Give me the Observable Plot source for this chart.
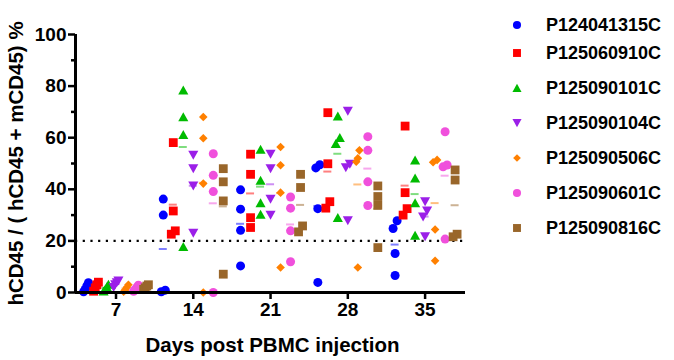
<!DOCTYPE html>
<html><head><meta charset="utf-8">
<script src="https://cdn.jsdelivr.net/npm/d3@7"></script>
<script src="https://cdn.jsdelivr.net/npm/@observablehq/plot@0.6"></script>
<style>
body{margin:0;background:#fff;font-family:"Liberation Sans",Arial,sans-serif;}
#wrap{position:relative;width:674px;height:360px;overflow:hidden;}
#chart{position:absolute;left:0;top:0;}
.item{position:absolute;left:0;height:20px;line-height:20px;font-weight:bold;font-size:18px;color:#000;white-space:nowrap;}
.item svg{position:absolute;left:0;top:0;}
.item span{position:absolute;left:41px;top:0;}
</style></head><body><div id="wrap"><div id="chart"></div><div id="legend"></div></div>
<script>
// ---- data ----
const days = [7, 14, 21, 28, 35];
const seriesNames = ["P124041315C","P125060910C","P125090101C","P125090104C","P125090506C","P125090601C","P125090816C"];
// values per day (7,14,21,28,35), four mice each
const P124041315C = [[0.3,1.2,2.5,3.8],[36.2,30.0,0.3,0.9],[39.8,32.3,24.1,10.3],[49.5,48.3,32.5,3.9],[27.8,24.8,15.1,6.6]];
const P125060910C = [[0.5,1.8,3.0,4.0],[58.1,31.6,23.9,22.6],[53.6,45.8,29.0,25.2],[69.7,49.9,35.2,32.7],[64.5,38.7,32.5,30.0]];
const P125090101C = [[0.5,1.2,2.2,3.2],[78.5,68.1,61.2,17.8],[55.5,43.5,34.8,30.3],[68.4,60.0,57.7,29.0],[51.3,44.3,34.8,22.2]];
const P125090104C = [[2.0,3.0,3.8,4.5],[53.2,48.0,41.3,23.0],[53.6,48.0,36.2,30.0],[70.3,49.7,48.4,27.8],[35.2,31.6,29.3,21.6]];
const P125090506C = [[0.3,1.0,2.0,3.0],[68.0,59.8,42.2,0.0],[56.4,49.3,38.7,9.7],[55.1,52.0,50.7,9.7],[51.4,50.5,24.4,12.3]];
const P125090601C = [[0.5,1.2,2.0,2.8],[53.8,45.4,39.1,0.0],[37.0,32.7,23.9,11.9],[60.4,55.1,42.9,33.7],[62.3,49.4,48.7,20.7]];
const P125090816C = [[1.2,1.8,2.5,3.0],[48.0,42.9,35.5,7.1],[45.8,40.7,25.8,23.5],[41.3,37.2,33.8,17.4],[47.5,43.6,22.6,21.6]];
const yTicks = [0, 20, 40, 60, 80, 100];
const yMinorTicks = [10, 30, 50, 70, 90];
const thresholdLine = [20];
const xTitle = "Days post PBMC injection";
const yTitle = "hCD45 / ( hCD45 + mCD45) %";

// ---- styling ----
const seriesValues = [P124041315C,P125060910C,P125090101C,P125090104C,P125090506C,P125090601C,P125090816C];
const colors = ["#0000FF","#FF0000","#00BB00","#9B1FE8","#FF8000","#F050DC","#99662A"];
const shape = (k, s) => {
  if (k === "circle") return {draw(c){c.moveTo(s,0);c.arc(0,0,s,0,2*Math.PI);}};
  if (k === "square") return {draw(c){c.rect(-s,-s,2*s,2*s);}};
  if (k === "tri") return {draw(c){c.moveTo(0,-s*1.02);c.lineTo(s*1.12,s*0.98);c.lineTo(-s*1.12,s*0.98);c.closePath();}};
  if (k === "triDown") return {draw(c){c.moveTo(0,s*1.02);c.lineTo(s*1.12,-s*0.98);c.lineTo(-s*1.12,-s*0.98);c.closePath();}};
  return {draw(c){c.moveTo(0,-s);c.lineTo(s,0);c.lineTo(0,s);c.lineTo(-s,0);c.closePath();}};
};
const kinds = ["circle","square","tri","triDown","diamond","circle","square"];
const sizes = [4.5,4.4,4.5,4.5,4.3,4.5,4.4];

const width = 480, height = 360, mL = 75, mR = 15, mT = 34, mB = 68;
const xDomain = [3.33, 38.66];
const pxPerDay = (width - mL - mR) / (xDomain[1] - xDomain[0]);
const pxPerUnit = (height - mT - mB) / 100;
const seriesStep = 10 / pxPerDay;

// build rows with GraphPad-like spreading of overlapping points
const rows = [];
const means = [];
seriesNames.forEach((name, i) => {
  days.forEach((day, j) => {
    const vals = seriesValues[i][j].slice().sort((a, b) => a - b);
    const cx = day + (i - 3) * seriesStep;
    const clusters = [];
    vals.forEach(v => {
      const last = clusters[clusters.length - 1];
      if (last && (v - last[last.length - 1]) * pxPerUnit < 8.5) last.push(v);
      else clusters.push([v]);
    });
    clusters.forEach(cl => {
      const step = cl.length > 2 ? 1.6 : 4;
      cl.forEach((v, k) => {
        rows.push({series: name, i, day, v, x: cx + (k - (cl.length - 1) / 2) * step / pxPerDay});
      });
    });
    means.push({series: name, i, x: cx, mean: d3.mean(vals)});
  });
});

const marks = [
  Plot.ruleY(thresholdLine, {stroke: "#000", strokeWidth: 2.2, strokeDasharray: "2.2,5.5"}),
  Plot.ruleY(means, {y: "mean", x1: d => d.x - 4 / pxPerDay, x2: d => d.x + 4 / pxPerDay, stroke: d => colors[d.i], strokeOpacity: 0.5, strokeWidth: 2}),
];
seriesNames.forEach((name, i) => {
  marks.push(Plot.dot(rows.filter(d => d.i === i), {x: "x", y: "v", symbol: shape(kinds[i], sizes[i]), fill: colors[i], stroke: "none"}));
});
marks.push(
  Plot.ruleY([0], {stroke: "#000", strokeWidth: 3}),
  Plot.ruleX([xDomain[0]], {stroke: "#000", strokeWidth: 3, y1: 0, y2: 100}),
  Plot.axisY(yTicks, {tickSize: 7, tickPadding: 2, fontSize: 19, strokeWidth: 2.5, label: null}),
  Plot.axisY(yMinorTicks, {tickSize: 4, tickFormat: () => "", strokeWidth: 2.5, label: null}),
  Plot.axisX(days, {tickSize: 7, tickPadding: 3, fontSize: 19, strokeWidth: 2.5, label: null}),
  Plot.text([xTitle], {text: d => d, frameAnchor: "bottom", lineAnchor: "middle", textAnchor: "middle", dy: 53, dx: 2, fontSize: 20.5}),
  Plot.text([yTitle], {text: d => d, frameAnchor: "left", lineAnchor: "middle", textAnchor: "middle", dx: -59, rotate: -90, fontSize: 20.5})
);

const chart = Plot.plot({
  width, height, marginLeft: mL, marginRight: mR, marginTop: mT, marginBottom: mB,
  x: {domain: xDomain},
  y: {domain: [0, 100]},
  style: {fontFamily: '"Liberation Sans", Arial, sans-serif', fontWeight: "bold", color: "#000", background: "#fff", overflow: "visible"},
  marks
});
document.getElementById("chart").appendChild(chart);

// legend
const legendRows = [25, 53, 88, 123, 158, 193, 228];
const lg = document.getElementById("legend");
lg.style.position = "absolute"; lg.style.left = "505px"; lg.style.top = "0px";
seriesNames.forEach((name, i) => {
  const it = document.createElement("div");
  it.className = "item";
  it.style.top = (legendRows[i] - 10) + "px";
  const p = d3.path();
  shape(kinds[i], sizes[i] * 0.9).draw(p);
  it.innerHTML = `<svg width="24" height="20" viewBox="-12 -10 24 20"><path d="${p.toString()}" fill="${colors[i]}"/></svg><span>${name}</span>`;
  lg.appendChild(it);
});
</script></body></html>
